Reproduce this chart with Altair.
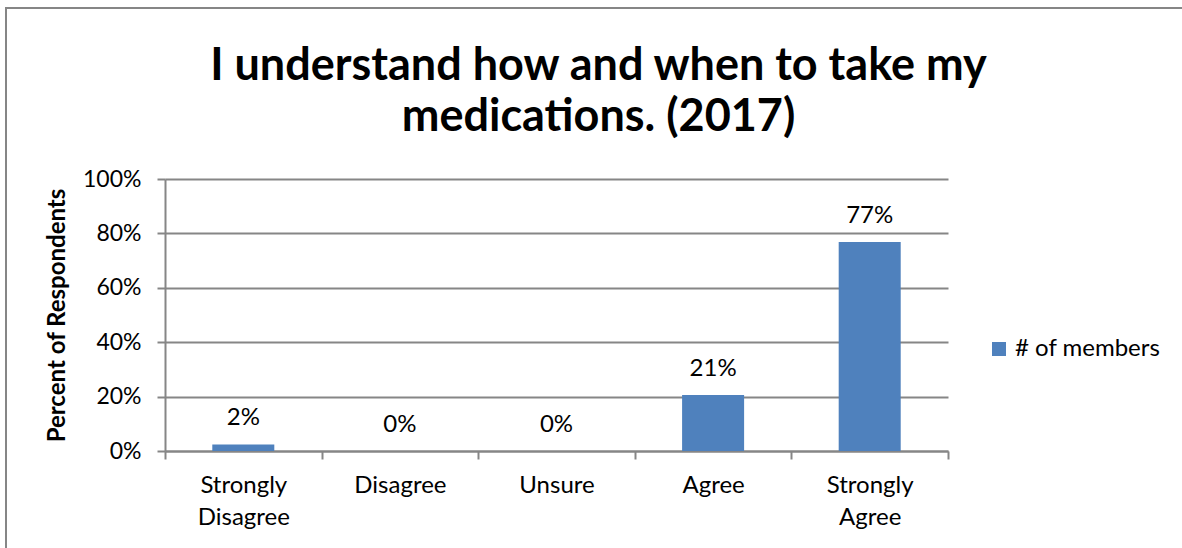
import altair as alt
import pandas as pd

categories = ["Strongly Disagree", "Disagree", "Unsure", "Agree", "Strongly Agree"]
values = [2.4, 0.0, 0.0, 20.6, 76.8]
series_name = "# of members"
title_lines = ["I understand how and when to take my", "medications. (2017)"]
y_ticks = [0, 20, 40, 60, 80, 100]

df = pd.DataFrame({"cat": categories, "val": values, "series": [series_name] * len(categories)})

FONT = "Lato"
GRID = "#868686"

x_enc = alt.X(
    "cat:N",
    sort=categories,
    title=None,
    scale=alt.Scale(paddingInner=0, paddingOuter=0),
    axis=alt.Axis(
        labelAngle=0,
        labelExpr="split(datum.label, ' ')",
        labelFontSize=24,
        labelLineHeight=32,
        labelPadding=14,
        labelColor="black",
        labelFont=FONT,
        tickBand="extent",
        tickSize=8,
        tickColor=GRID,
        tickWidth=2,
        domainColor=GRID,
        domainWidth=2,
        grid=False,
    ),
)

y_enc = alt.Y(
    "val:Q",
    title="Percent of Respondents",
    scale=alt.Scale(domain=[0, 100], nice=False),
    axis=alt.Axis(
        values=y_ticks,
        labelExpr="datum.value + '%'",
        labelFontSize=23,
        labelFont=FONT,
        labelColor="black",
        labelPadding=16,
        tickSize=8,
        tickColor=GRID,
        tickWidth=2,
        domainColor=GRID,
        domainWidth=2,
        gridColor=GRID,
        gridWidth=2,
        titleFont=FONT,
        titleFontSize=24,
        titleFontWeight="bold",
        titleColor="black",
        titleX=-101,
        titleBaseline="alphabetic",
    ),
)

bars = alt.Chart(df).mark_bar(width=alt.RelativeBandSize(0.396), color="#4F81BD").encode(
    x=x_enc,
    y=y_enc,
    color=alt.Color(
        "series:N",
        scale=alt.Scale(range=["#4F81BD"]),
        legend=alt.Legend(
            title=None,
            orient="none",
            legendX=822,
            legendY=158,
            symbolType="square",
            symbolSize=196,
            symbolStrokeWidth=0,
            labelFontSize=24,
            labelFont=FONT,
            labelColor="black",
            labelOffset=4,
        ),
    ),
)

labels = alt.Chart(df).transform_calculate(
    lbl="format(datum.val, '.0f') + '%'"
).mark_text(
    font=FONT, fontSize=24, color="black", baseline="alphabetic", dy=-19
).encode(
    x=alt.X("cat:N", sort=categories),
    y=alt.Y("val:Q"),
    text="lbl:N",
)

border = alt.Chart(alt.Data(values=[{"a": 1}])).mark_rect(
    fill=None, stroke=GRID, strokeWidth=2
).encode(
    x=alt.value(-159), x2=alt.value(1030), y=alt.value(-171), y2=alt.value(385)
)

chart = alt.layer(border, bars, labels).properties(
    width=783,
    height=272,
    autosize=alt.AutoSizeParams(type="none"),
    padding={"left": 165, "top": 179, "right": 234, "bottom": 97},
    title=alt.TitleParams(
        text=title_lines,
        font=FONT,
        fontSize=45,
        fontWeight="bold",
        color="black",
        anchor="middle",
        lineHeight=51,
        dx=42,
        offset=-133,
    ),
).configure_view(stroke=None)

chart.save("out.html", embed_options={"renderer": "svg", "actions": False})
